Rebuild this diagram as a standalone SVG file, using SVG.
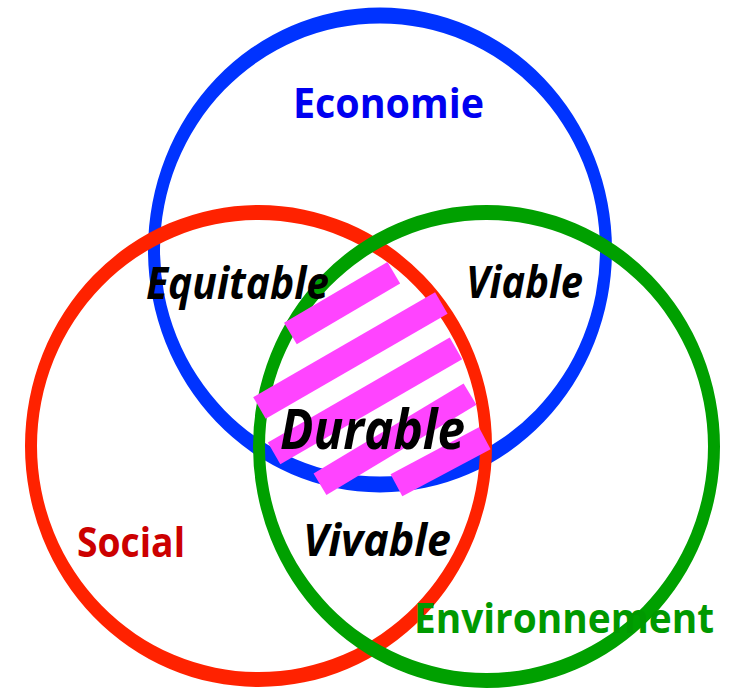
<svg xmlns="http://www.w3.org/2000/svg" width="734" height="688" viewBox="0 0 734 688">
<style>
.ring{fill-rule:evenodd}
.lbl{font-family:"Open Sans","Noto Sans","Liberation Sans",sans-serif;font-weight:bold;font-size:42px}
.it{font-style:italic;fill:#000}
.stripe{fill:#ff44ff}
</style>
<rect width="734" height="688" fill="#fff"/>
<g id="economie-circle">
<path class="ring" fill="#0033ff" d="M148,250 a232,242.5 0 1,0 464,0 a232,242.5 0 1,0 -464,0 Z M160,250 a220,226.5 0 1,0 440,0 a220,226.5 0 1,0 -440,0 Z"/>
</g>
<g id="social-circle">
<path class="ring" fill="#ff2200" d="M25,446 a233.5,241 0 1,0 467,0 a233.5,241 0 1,0 -467,0 Z M37,446 a221.5,226 0 1,0 443,0 a221.5,226 0 1,0 -443,0 Z"/>
</g>
<g id="environnement-circle">
<path class="ring" fill="#00a000" d="M253,446.5 a233.5,241.5 0 1,0 467,0 a233.5,241.5 0 1,0 -467,0 Z M265,446.5 a221.5,226.5 0 1,0 443,0 a221.5,226.5 0 1,0 -443,0 Z"/>
</g>
<g id="durable-hatch">
<rect class="stripe" x="-60" y="-12.5" width="120" height="25" transform="translate(342.1,303.1) rotate(-30.5)"/>
<rect class="stripe" x="-105" y="-12.5" width="210" height="25" transform="translate(350.4,355.5) rotate(-30)"/>
<rect class="stripe" x="-105" y="-12.5" width="210" height="25" transform="translate(365,400.9) rotate(-30)"/>
<rect class="stripe" x="-87.5" y="-12.5" width="175" height="25" transform="translate(395,439.2) rotate(-31)"/>
<rect class="stripe" x="-50" y="-12.5" width="100" height="25" transform="translate(440.6,461.8) rotate(-28)"/>
</g>
<g id="labels">
<text id="economie" class="lbl" x="293" y="118" textLength="191" lengthAdjust="spacingAndGlyphs" fill="#0000f0">Economie</text>
<text id="equitable" class="lbl it" x="146" y="299" font-size="44" style="font-size:44px" textLength="183" lengthAdjust="spacingAndGlyphs">Equitable</text>
<text id="viable" class="lbl it" x="466" y="298" font-size="44" style="font-size:44px" textLength="117" lengthAdjust="spacingAndGlyphs">Viable</text>
<text id="durable" class="lbl it" x="280" y="449" font-size="56" style="font-size:56px" textLength="185" lengthAdjust="spacingAndGlyphs">Durable</text>
<text id="social" class="lbl" x="77" y="557" textLength="108" lengthAdjust="spacingAndGlyphs" fill="#cc0000">Social</text>
<text id="vivable" class="lbl it" x="303" y="556" font-size="44" style="font-size:44px" textLength="148" lengthAdjust="spacingAndGlyphs">Vivable</text>
<text id="environnement" class="lbl" x="414" y="633" textLength="300" lengthAdjust="spacingAndGlyphs" fill="#009900">Environnement</text>
</g>
</svg>
